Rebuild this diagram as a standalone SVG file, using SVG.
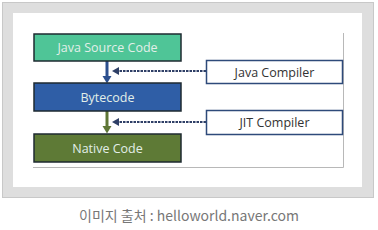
<svg xmlns="http://www.w3.org/2000/svg" width="378" height="230" viewBox="0 0 378 230">
<style>
.lbl{font-family:"Open Sans","Liberation Sans",sans-serif;font-size:12.5px;text-anchor:middle;dominant-baseline:central}
.box{stroke:#1e2a30;stroke-width:1.5}
.w{fill:#e2efe9}
.cmp{fill:#fff;stroke:#2e4a7a;stroke-width:1.5}
.dash{stroke:#2e3f66;stroke-width:2;stroke-dasharray:2.5 1;fill:none}
.dh{fill:#2e3f66}
</style>
<rect x="2.5" y="2.5" width="371" height="195" fill="#dedede" stroke="#c8c8c8"/>
<rect x="13" y="13" width="349" height="174" fill="#fff"/>
<path d="M33,167.5 H343.5 V33" fill="none" stroke="#b8b8b8" stroke-width="1"/>
<g id="connectors">
<line x1="107" y1="61" x2="107" y2="77" stroke="#2c4f8e" stroke-width="3"/>
<polygon points="102.5,76 111.5,76 107,83.5" fill="#2c4f8e"/>
<line x1="107" y1="111" x2="107" y2="127" stroke="#5e7636" stroke-width="3"/>
<polygon points="102.5,126 111.5,126 107,133.5" fill="#5e7636"/>
<line class="dash" x1="206" y1="71" x2="117" y2="71"/>
<polygon class="dh" points="112,71 119,67 119,75"/>
<line class="dash" x1="206" y1="122" x2="117" y2="122"/>
<polygon class="dh" points="112,122 119,118 119,126"/>
</g>
<g id="java-source">
<rect class="box" x="34" y="34" width="147" height="27" fill="#4fc597"/>
<text class="lbl w" x="107.5" y="47.5">Java Source Code</text>
</g>
<g id="bytecode">
<rect class="box" x="34" y="83" width="147" height="28" fill="#2f5ea6"/>
<text class="lbl w" x="107.5" y="97">Bytecode</text>
</g>
<g id="native-code">
<rect class="box" x="34" y="134" width="147" height="28" fill="#5e7a36"/>
<text class="lbl w" x="107.5" y="148">Native Code</text>
</g>
<g id="java-compiler">
<rect class="cmp" x="206.5" y="60.5" width="136" height="23"/>
<text class="lbl" x="274.5" y="72" fill="#333">Java Compiler</text>
</g>
<g id="jit-compiler">
<rect class="cmp" x="206.5" y="110.5" width="136" height="24"/>
<text class="lbl" x="274.5" y="122.5" fill="#333">JIT Compiler</text>
</g>
<text x="189" y="215" font-family="'Noto Sans CJK KR','Noto Sans',sans-serif" font-size="14" fill="#777" text-anchor="middle" dominant-baseline="central">이미지 출처 : helloworld.naver.com</text>
</svg>
